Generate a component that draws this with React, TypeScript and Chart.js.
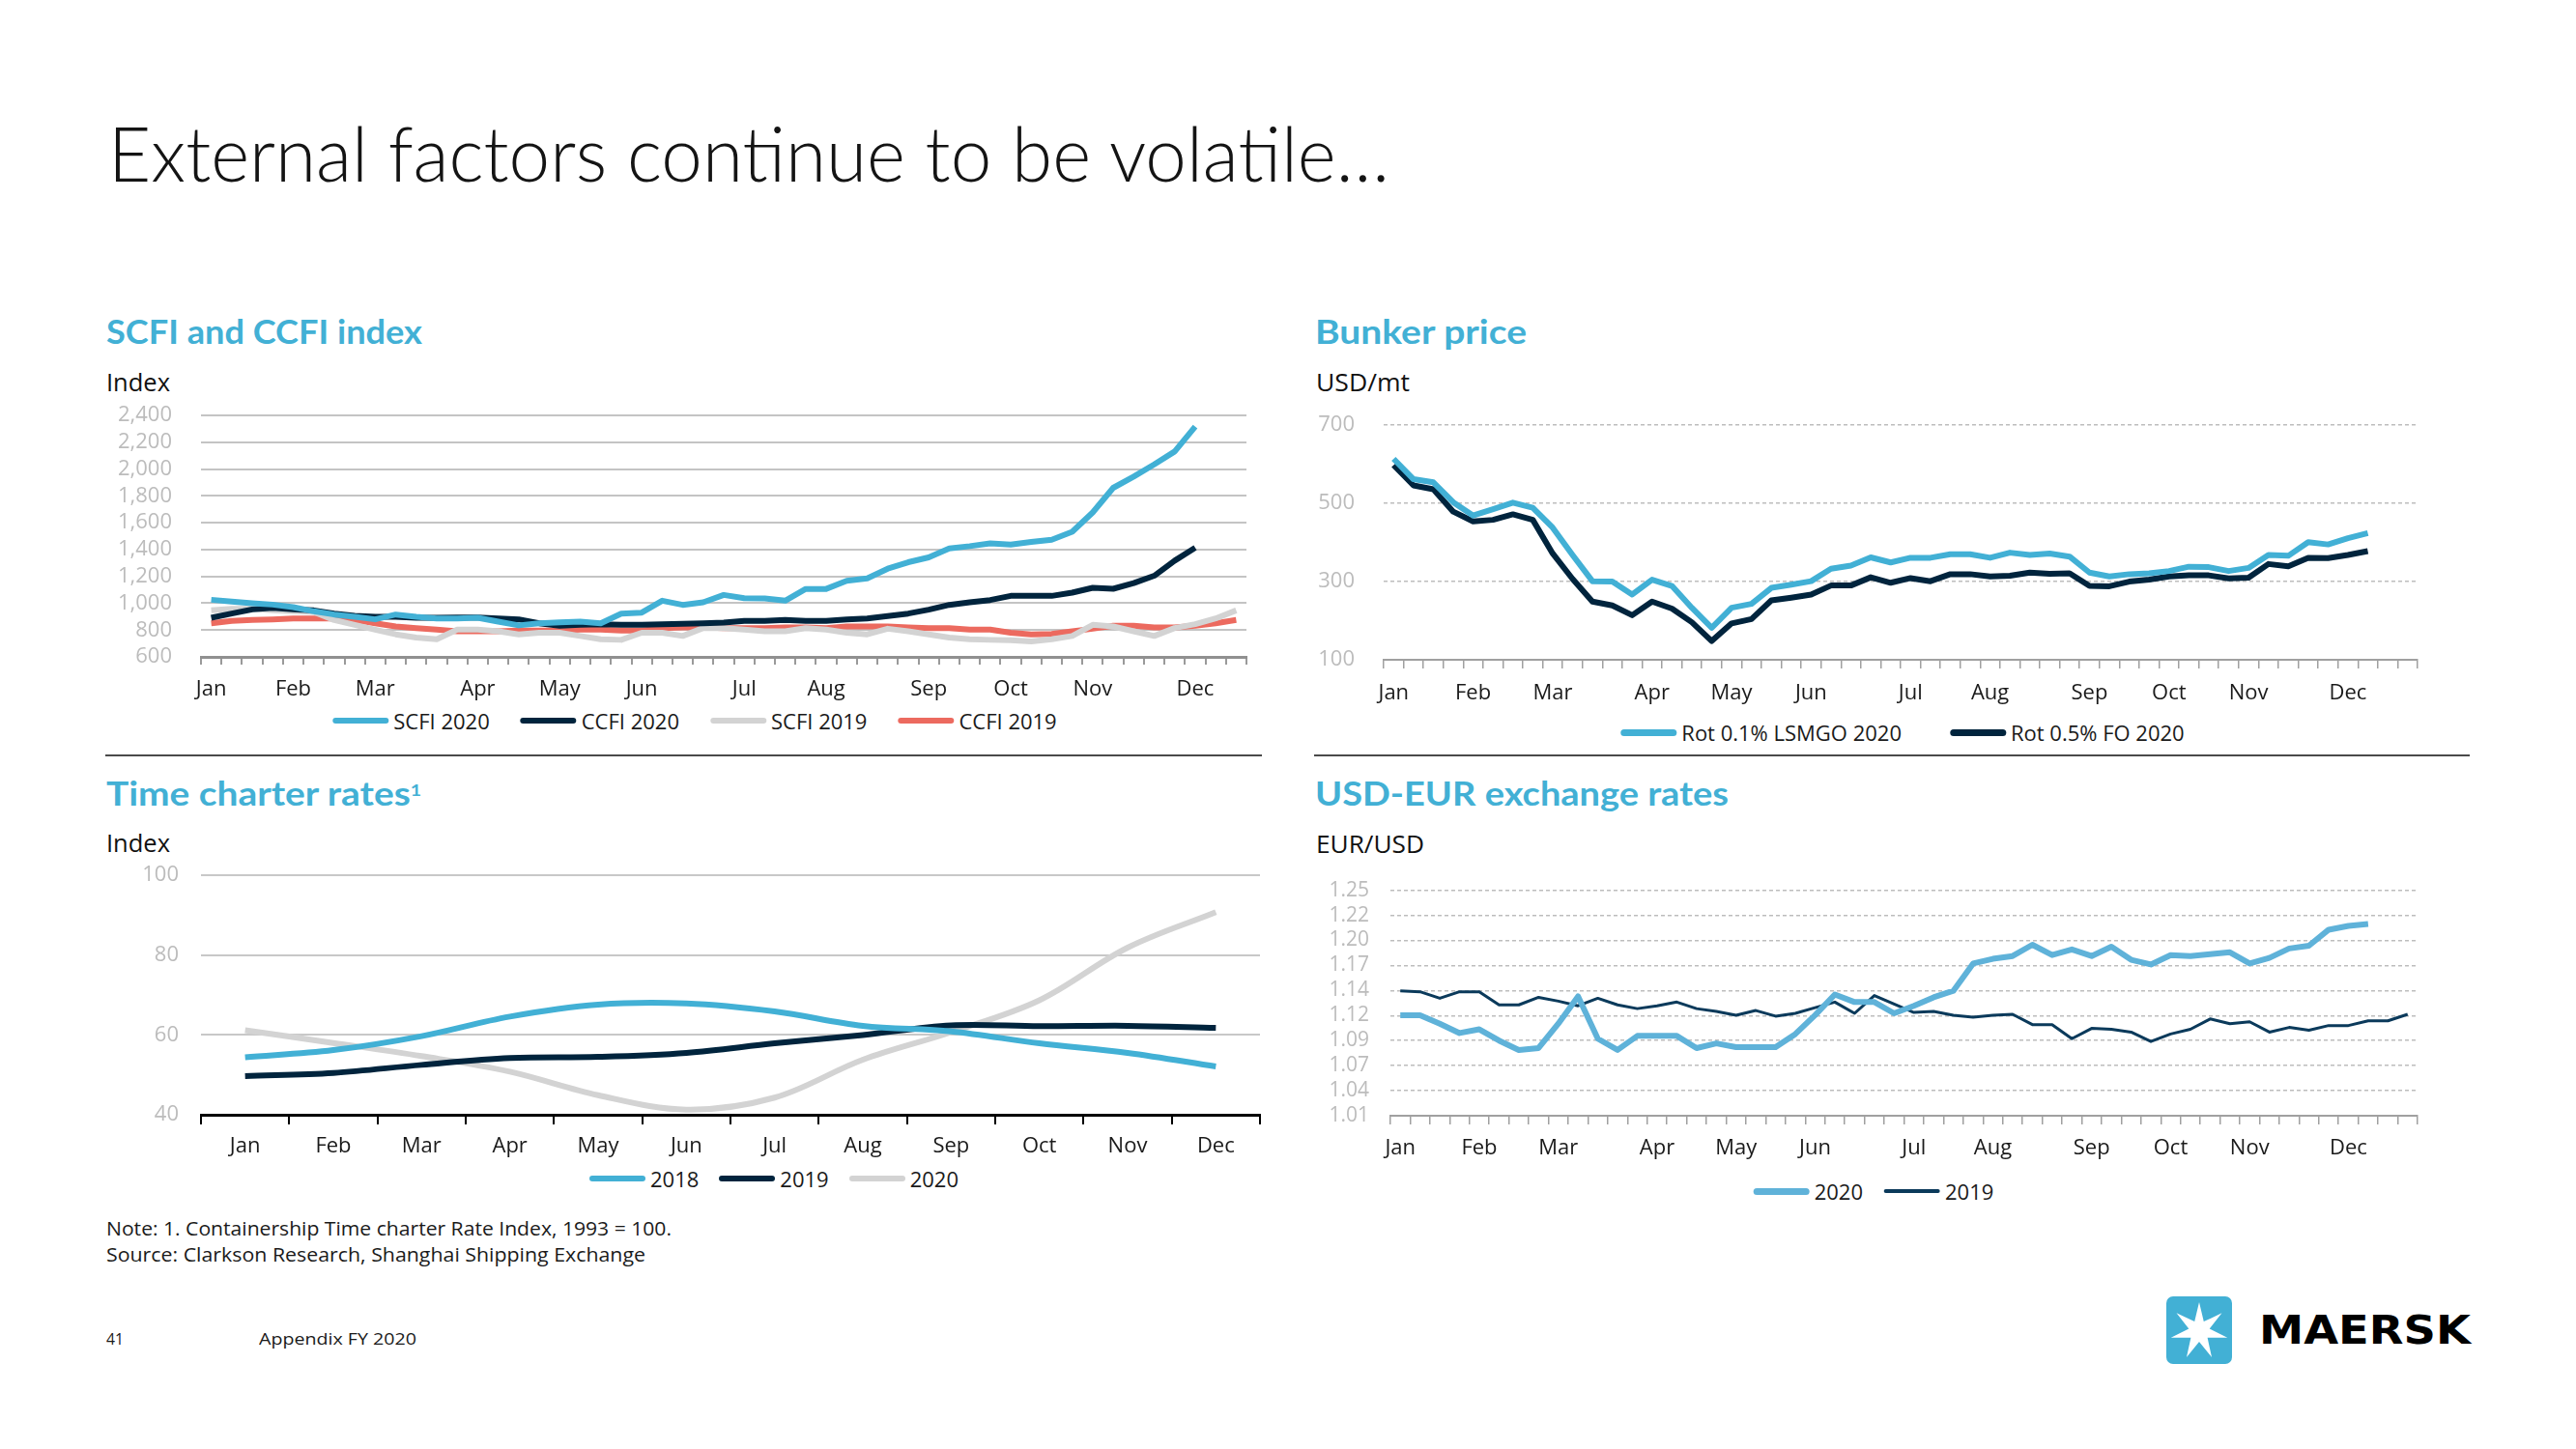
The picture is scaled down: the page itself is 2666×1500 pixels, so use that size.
import React, { useEffect, useLayoutEffect, useRef } from 'react';
import { Chart, registerables } from 'chart.js';
Chart.register(...registerables);

// ---------- data ----------
const MONTHS = ['Jan', 'Feb', 'Mar', 'Apr', 'May', 'Jun', 'Jul', 'Aug', 'Sep', 'Oct', 'Nov', 'Dec'];
const MONTH_WEEK_INDEX = [0, 4, 8, 13, 17, 21, 26, 30, 35, 39, 43, 48];
const SCFI_WEEK_COUNT = 51;
const BUNKER_WEEK_COUNT = 52;
const FX_WEEK_COUNT = 52;

const SCFI_SERIES = ['SCFI 2020', 'CCFI 2020', 'SCFI 2019', 'CCFI 2019'];
const SCFI_2020 = [1026, 1012, 1000, 990, 971, 940, 916, 899, 880, 916, 899, 887, 887, 892, 863, 835, 851, 858, 863, 851, 923, 930, 1019, 988, 1007, 1062, 1038, 1036, 1019, 1107, 1107, 1167, 1186, 1258, 1306, 1342, 1409, 1426, 1447, 1438, 1457, 1474, 1533, 1677, 1861, 1945, 2036, 2132, 2318];
const CCFI_2020 = [892, 923, 954, 966, 954, 947, 923, 906, 899, 899, 892, 892, 894, 894, 887, 880, 851, 832, 839, 844, 839, 839, 844, 846, 851, 856, 868, 868, 875, 868, 868, 880, 887, 904, 923, 952, 988, 1007, 1024, 1055, 1055, 1055, 1079, 1115, 1108, 1150, 1205, 1318, 1414];
const SCFI_2019 = [947, 959, 959, 947, 940, 935, 875, 839, 803, 768, 744, 732, 803, 803, 791, 768, 780, 780, 756, 732, 727, 780, 780, 756, 815, 815, 803, 791, 791, 815, 803, 780, 768, 810, 791, 768, 744, 732, 727, 725, 715, 732, 756, 839, 827, 791, 756, 815, 844, 887, 947];
const CCFI_2019 = [851, 868, 875, 880, 887, 887, 887, 875, 851, 827, 815, 803, 791, 791, 791, 796, 796, 796, 803, 803, 796, 796, 815, 820, 820, 815, 815, 815, 820, 820, 815, 827, 827, 827, 820, 815, 815, 803, 803, 780, 768, 772, 791, 810, 832, 832, 820, 820, 832, 851, 875];
const SCFI_Y_RANGE = [600, 2400, 200];

const BUNKER_SERIES = ['Rot 0.1% LSMGO 2020', 'Rot 0.5% FO 2020'];
const LSMGO_2020 = [614, 562, 554, 503, 469, 485, 502, 489, 438, 368, 301, 300, 267, 305, 289, 233, 182, 233, 243, 284, 292, 301, 333, 341, 362, 349, 361, 361, 370, 370, 361, 374, 368, 372, 364, 323, 313, 319, 321, 327, 338, 337, 327, 335, 368, 366, 401, 395, 411, 424];
const FO_2020 = [598, 546, 536, 479, 454, 458, 472, 458, 372, 307, 249, 239, 214, 249, 231, 196, 148, 193, 204, 252, 259, 267, 290, 290, 311, 297, 309, 301, 319, 319, 313, 315, 323, 320, 321, 289, 288, 300, 305, 313, 316, 316, 308, 310, 345, 339, 361, 360, 368, 378];
const BUNKER_Y_RANGE = [100, 700, 200];

const TC_SERIES = ['2018', '2019', '2020'];
const TC_2018 = [54.4, 56.2, 59.7, 64.6, 67.6, 67.9, 65.9, 62.3, 60.9, 57.9, 55.5, 52.1];
const TC_2019 = [49.7, 50.5, 52.5, 54.2, 54.5, 55.5, 57.9, 60.0, 62.4, 62.2, 62.3, 61.8];
const TC_2020 = [61.2, 58.0, 54.7, 50.8, 44.9, 41.3, 44.3, 53.8, 60.7, 68.7, 81.9, 90.8];
const TC_Y_RANGE = [40, 100, 20];

const FX_SERIES = ['2020', '2019'];
const FX_2020 = [1.117, 1.117, 1.108, 1.098, 1.102, 1.090, 1.080, 1.082, 1.108, 1.137, 1.092, 1.080, 1.095, 1.095, 1.095, 1.082, 1.087, 1.083, 1.083, 1.083, 1.097, 1.117, 1.139, 1.131, 1.131, 1.119, 1.127, 1.136, 1.143, 1.172, 1.177, 1.180, 1.192, 1.181, 1.187, 1.180, 1.190, 1.176, 1.171, 1.181, 1.180, 1.182, 1.184, 1.172, 1.178, 1.188, 1.191, 1.208, 1.212, 1.214];
const FX_2019 = [1.143, 1.142, 1.135, 1.142, 1.142, 1.128, 1.128, 1.136, 1.132, 1.127, 1.135, 1.128, 1.124, 1.127, 1.131, 1.124, 1.121, 1.117, 1.122, 1.116, 1.119, 1.125, 1.131, 1.119, 1.138, 1.129, 1.120, 1.121, 1.117, 1.115, 1.117, 1.118, 1.107, 1.107, 1.092, 1.103, 1.102, 1.099, 1.089, 1.097, 1.102, 1.113, 1.108, 1.110, 1.099, 1.104, 1.101, 1.106, 1.106, 1.111, 1.111, 1.118];
const FX_Y_LABELS = ['1.01', '1.04', '1.07', '1.09', '1.12', '1.14', '1.17', '1.20', '1.22', '1.25'];
const FX_Y_RANGE = [1.01, 1.25];

// ---------- styles ----------
const BLUE = '#42b0d5';
const NAVY = '#00243d';
const GREY_LINE = '#d3d3d3';
const CORAL = '#ec6a5f';
const FX_BLUE = '#5fb2d9';
const FX_NAVY = '#0b3a5b';
const SANS = '"Open Sans", "Noto Sans", Arial, sans-serif';
const HEAD = 'Lato, "Open Sans", sans-serif';

function weekLabels(n: number) {
  const a: string[] = new Array(n).fill('');
  MONTH_WEEK_INDEX.forEach((w, i) => { a[w] = MONTHS[i]; });
  return a;
}

function lineDs(label: string, data: number[], color: string, width: number, tension = 0) {
  return {
    label, data, borderColor: color, backgroundColor: color, borderWidth: width,
    pointRadius: 0, pointHoverRadius: 0, tension, borderJoinStyle: 'round', borderCapStyle: 'butt', fill: false,
  };
}

function buildConfig(p: any) {
  return {
    type: 'line',
    data: { labels: p.labels, datasets: p.datasets },
    options: {
      responsive: false, animation: false, devicePixelRatio: 1, events: [],
      layout: { padding: { top: 0, left: 0, bottom: 0, right: p.padRight } },
      plugins: { tooltip: { enabled: false }, legend: { display: false } },
      scales: {
        x: {
          type: 'category', offset: true,
          border: { display: true, color: p.xBorderColor, width: p.xBorderWidth },
          grid: { display: true, drawOnChartArea: false, drawTicks: true, tickLength: p.xTickLen, color: p.xTickColor, lineWidth: p.xTickWidth, offset: true },
          ticks: { autoSkip: false, maxRotation: 0, minRotation: 0, padding: p.xPad, color: '#1a1a1a', font: { family: SANS, size: 22 } },
          afterFit: (s: any) => { s.height = p.xH; },
        },
        y: {
          min: p.yMin, max: p.yMax,
          border: { display: false, dash: p.gridDash || [] },
          grid: { color: p.gridColor, lineWidth: p.gridWidth, drawTicks: false },
          ticks: { autoSkip: false, stepSize: p.yStep, padding: p.yPad, color: '#bcbcbc', font: { family: SANS, size: p.yFont }, callback: p.yCallback },
          afterBuildTicks: p.yAfterBuild,
          afterFit: (s: any) => { s.width = p.yW; },
        },
      },
    },
  };
}

const scfiConfig = () => buildConfig({
  labels: weekLabels(SCFI_WEEK_COUNT),
  datasets: [
    lineDs(SCFI_SERIES[0], SCFI_2020, BLUE, 6),
    lineDs(SCFI_SERIES[1], CCFI_2020, NAVY, 6),
    lineDs(SCFI_SERIES[2], SCFI_2019, GREY_LINE, 6),
    lineDs(SCFI_SERIES[3], CCFI_2019, CORAL, 6),
  ],
  padRight: 10,
  xBorderColor: '#909090', xBorderWidth: 3, xTickLen: 8, xTickColor: '#9a9a9a', xTickWidth: 2, xPad: 13, xH: 50,
  yMin: SCFI_Y_RANGE[0], yMax: SCFI_Y_RANGE[1], yStep: SCFI_Y_RANGE[2], yPad: 30, yFont: 22, yW: 96,
  gridColor: '#c4c4c4', gridWidth: 2,
  yCallback: (v: any) => Number(v).toLocaleString('en-US'),
});

const bunkerConfig = () => buildConfig({
  labels: weekLabels(BUNKER_WEEK_COUNT),
  datasets: [
    lineDs(BUNKER_SERIES[0], LSMGO_2020, BLUE, 6),
    lineDs(BUNKER_SERIES[1], FO_2020, NAVY, 6),
  ],
  padRight: 10,
  xBorderColor: '#a0a0a0', xBorderWidth: 2, xTickLen: 9, xTickColor: '#a0a0a0', xTickWidth: 1.5, xPad: 13, xH: 55,
  yMin: BUNKER_Y_RANGE[0], yMax: BUNKER_Y_RANGE[1], yStep: BUNKER_Y_RANGE[2], yPad: 30, yFont: 22, yW: 77,
  gridColor: '#bdbdbd', gridWidth: 1.5, gridDash: [4, 3],
});

const tcConfig = () => buildConfig({
  labels: MONTHS,
  datasets: [
    lineDs(TC_SERIES[0], TC_2018, BLUE, 6, 0.35),
    lineDs(TC_SERIES[1], TC_2019, NAVY, 6, 0.35),
    lineDs(TC_SERIES[2], TC_2020, GREY_LINE, 6, 0.35),
  ],
  padRight: 10,
  xBorderColor: '#000000', xBorderWidth: 3, xTickLen: 10, xTickColor: '#000000', xTickWidth: 2, xPad: 10, xH: 50,
  yMin: TC_Y_RANGE[0], yMax: TC_Y_RANGE[1], yStep: TC_Y_RANGE[2], yPad: 23, yFont: 22, yW: 70,
  gridColor: '#c8c8c8', gridWidth: 2,
});

const fxConfig = () => buildConfig({
  labels: weekLabels(FX_WEEK_COUNT),
  datasets: [
    lineDs(FX_SERIES[0], FX_2020, FX_BLUE, 6),
    lineDs(FX_SERIES[1], FX_2019, FX_NAVY, 3),
  ],
  padRight: 10,
  xBorderColor: '#a0a0a0', xBorderWidth: 2, xTickLen: 9, xTickColor: '#a0a0a0', xTickWidth: 1.5, xPad: 12, xH: 50,
  yMin: FX_Y_RANGE[0], yMax: FX_Y_RANGE[1], yPad: 22, yFont: 21, yW: 75,
  gridColor: '#bdbdbd', gridWidth: 1.5, gridDash: [4, 3],
  yAfterBuild: (s: any) => {
    const n = FX_Y_LABELS.length - 1;
    s.ticks = FX_Y_LABELS.map((_, i) => ({
      value: i === n ? FX_Y_RANGE[1] : FX_Y_RANGE[0] + (i * (FX_Y_RANGE[1] - FX_Y_RANGE[0])) / n,
    }));
  },
  yCallback: (_v: any, i: number) => FX_Y_LABELS[i],
});

// ---------- components ----------
function ChartBox({ left, top, width, height, config }: any) {
  const ref = useRef<HTMLCanvasElement>(null);
  useEffect(() => {
    if (!ref.current) return;
    const chart = new Chart(ref.current, config() as any);
    return () => chart.destroy();
  }, []);
  return <canvas ref={ref} width={width} height={height} style={{ position: 'absolute', left, top, width, height }} />;
}

function FitText({ x, top, w, size, weight = 400, family = SANS, color = '#111', children }: any) {
  const ref = useRef<HTMLSpanElement>(null);
  useLayoutEffect(() => {
    const el = ref.current;
    if (!el) return;
    const apply = () => {
      el.style.transform = 'none';
      const cw = el.getBoundingClientRect().width;
      if (cw > 0) el.style.transform = `scaleX(${w / cw})`;
    };
    apply();
    (document as any).fonts?.ready?.then(apply);
  }, [w]);
  return (
    <span ref={ref} style={{ position: 'absolute', left: x, top, whiteSpace: 'nowrap', transformOrigin: 'left top', fontFamily: family, fontSize: size, fontWeight: weight, lineHeight: 1, color }}>
      {children}
    </span>
  );
}

function Legend({ cx, cy, gap, items }: any) {
  return (
    <div style={{ position: 'absolute', left: cx, top: cy, transform: 'translate(-50%, -50%)', display: 'flex', alignItems: 'center', whiteSpace: 'nowrap', fontFamily: SANS, fontSize: 22, lineHeight: 1, color: '#1a1a1a' }}>
      {items.map((it: any, i: number) => (
        <div key={i} style={{ display: 'flex', alignItems: 'center', marginLeft: i ? gap : 0 }}>
          <div style={{ width: 58, height: it.w, background: it.color, borderRadius: it.w / 2, marginRight: 5 }} />
          <span>{it.label}</span>
        </div>
      ))}
    </div>
  );
}

function starPoints(cx: number, cy: number, R: number, r: number, n: number) {
  const pts: string[] = [];
  for (let i = 0; i < n * 2; i++) {
    const rad = i % 2 === 0 ? R : r;
    const a = -Math.PI / 2 + (i * Math.PI) / n;
    pts.push(`${(cx + rad * Math.cos(a)).toFixed(2)},${(cy + rad * Math.sin(a)).toFixed(2)}`);
  }
  return pts.join(' ');
}

export default function App() {
  return (
    <div style={{ position: 'absolute', left: 0, top: 0, width: 2666, height: 1500, background: '#fff', overflow: 'hidden' }}>
      <FitText x={112} top={119} w={1326} size={78} weight={300} family={HEAD} color="#141414">External factors continue to be volatile…</FitText>

      <FitText x={110} top={325} w={327} size={35} weight={700} family={HEAD} color={BLUE}>SCFI and CCFI index</FitText>
      <FitText x={110} top={382} w={66} size={26}>Index</FitText>
      <FitText x={1361} top={325} w={219} size={35} weight={700} family={HEAD} color={BLUE}>Bunker price</FitText>
      <FitText x={1362} top={382} w={97} size={26}>USD/mt</FitText>

      <div style={{ position: 'absolute', left: 109, top: 781, width: 1197, height: 2, background: '#4a4a4a' }} />
      <div style={{ position: 'absolute', left: 1360, top: 781, width: 1196, height: 2, background: '#4a4a4a' }} />

      <FitText x={110} top={803} w={326} size={35} weight={700} family={HEAD} color={BLUE}>
        Time charter rates<span style={{ position: 'relative', top: '-0.55em', fontSize: '0.5em' }}>1</span>
      </FitText>
      <FitText x={110} top={859} w={66} size={26}>Index</FitText>
      <FitText x={1361} top={803} w={428} size={35} weight={700} family={HEAD} color={BLUE}>USD-EUR exchange rates</FitText>
      <FitText x={1362} top={860} w={112} size={26}>EUR/USD</FitText>

      <ChartBox left={112} top={387} width={1188} height={343} config={scfiConfig} />
      <ChartBox left={1355} top={397} width={1157} height={341} config={bunkerConfig} />
      <ChartBox left={138} top={870} width={1176} height={334} config={tcConfig} />
      <ChartBox left={1364} top={887} width={1148} height={318} config={fxConfig} />

      <Legend cx={719} cy={746} gap={32} items={[
        { label: SCFI_SERIES[0], color: BLUE, w: 6 },
        { label: SCFI_SERIES[1], color: NAVY, w: 6 },
        { label: SCFI_SERIES[2], color: GREY_LINE, w: 6 },
        { label: SCFI_SERIES[3], color: CORAL, w: 6 },
      ]} />
      <Legend cx={1969} cy={758} gap={50} items={[
        { label: BUNKER_SERIES[0], color: BLUE, w: 7 },
        { label: BUNKER_SERIES[1], color: NAVY, w: 7 },
      ]} />
      <Legend cx={801} cy={1220} gap={21} items={[
        { label: TC_SERIES[0], color: BLUE, w: 6 },
        { label: TC_SERIES[1], color: NAVY, w: 6 },
        { label: TC_SERIES[2], color: GREY_LINE, w: 6 },
      ]} />
      <Legend cx={1939} cy={1233} gap={22} items={[
        { label: FX_SERIES[0], color: FX_BLUE, w: 7 },
        { label: FX_SERIES[1], color: FX_NAVY, w: 4 },
      ]} />

      <FitText x={110} top={1262} w={585} size={20} color="#1a1a1a">Note: 1. Containership Time charter Rate Index, 1993 = 100.</FitText>
      <FitText x={110} top={1289} w={558} size={20} color="#1a1a1a">Source: Clarkson Research, Shanghai Shipping Exchange</FitText>

      <FitText x={110} top={1377} w={18} size={17} color="#1a1a1a">41</FitText>
      <FitText x={268} top={1377} w={163} size={17} color="#1a1a1a">Appendix FY 2020</FitText>

      <svg style={{ position: 'absolute', left: 2242, top: 1342 }} width={68} height={70} viewBox="0 0 68 70">
        <rect x={0} y={0} width={68} height={70} rx={7} ry={7} fill={BLUE} />
        <polygon points={starPoints(34, 36, 30, 11, 7)} fill="#ffffff" />
      </svg>
      <FitText x={2338} top={1357} w={219} size={41} weight={700} family={'"DejaVu Sans", Arial, sans-serif'} color="#000">MAERSK</FitText>
    </div>
  );
}
